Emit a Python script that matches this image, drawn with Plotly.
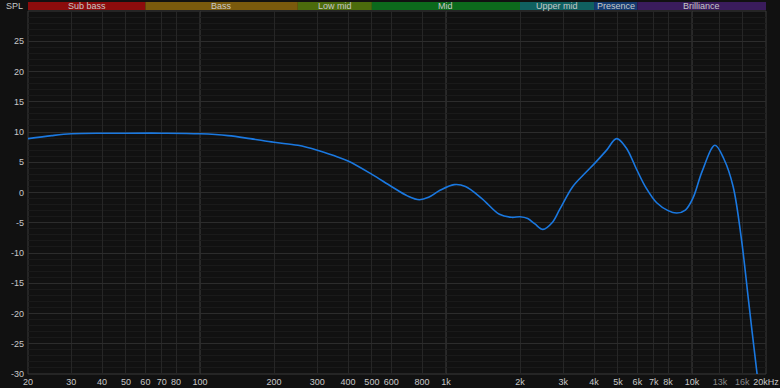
import math
import plotly.graph_objects as go

# ---- data ----
freq_hz = [20, 25, 30, 40, 50, 70, 100, 130, 160, 200, 250, 300, 350, 400, 500, 600, 700, 780,
           850, 950, 1080, 1200, 1400, 1650, 1850, 2000, 2150, 2300, 2480, 2700, 2900, 3280,
           3700, 4040, 4500, 4940, 5400, 5960, 6500, 7190, 8000, 8670, 9400, 10100, 11000,
           12400, 13500, 14700, 15900, 17000, 18400, 19000]
spl_db = [8.9, 9.4, 9.7, 9.8, 9.8, 9.8, 9.7, 9.4, 8.9, 8.3, 7.8, 7.0, 6.1, 5.2, 3.0, 1.0, -0.6, -1.2,
          -0.8, 0.4, 1.3, 1.0, -1.0, -3.6, -4.1, -4.0, -4.3, -5.2, -6.1, -5.0, -2.8, 1.0,
          3.3, 4.9, 7.0, 8.9, 7.4, 3.8, 0.8, -1.7, -3.0, -3.4, -2.9, -0.9, 3.5,
          7.8, 5.5, 1.0, -7.8, -18.0, -30.0, -34.0]

band_names = ["Sub bass", "Bass", "Low mid", "Mid", "Upper mid", "Presence", "Brilliance"]
band_lo = [20, 60, 250, 500, 2000, 4000, 6000]
band_hi = [60, 250, 500, 2000, 4000, 6000, 20000]
band_colors = ["#8c0c0c", "#7a5a0c", "#4c6c0c", "#0c6a1c", "#106060", "#143a70", "#3a1c5c"]

x_tick_vals = [20, 30, 40, 50, 60, 70, 80, 100, 200, 300, 400, 500, 600, 800, 1000, 2000, 3000,
               4000, 5000, 6000, 7000, 8000, 10000, 13000, 16000, 20000]
x_tick_text = ["20", "30", "40", "50", "60", "70", "80", "100", "200", "300", "400", "500", "600",
               "800", "1k", "2k", "3k", "4k", "5k", "6k", "7k", "8k", "10k",
               "<span style='color:#888'>13k</span>", "<span style='color:#888'>16k</span>", "20kHz"]
y_tick_vals = [25, 20, 15, 10, 5, 0, -5, -10, -15, -20, -25, -30]
y_tick_text = ["25", "20", "15", "10", "5", "0", "-5", "-10", "-15", "-20", "-25", "-30"]
decade_lines = [100, 1000, 10000]

W, H = 780, 388
ML, MR, MT, MB = 28, 14, 11, 14
plot_h = H - MT - MB
FONT = "Liberation Sans, Arial"

fig = go.Figure()
fig.add_trace(go.Scatter(x=freq_hz, y=spl_db, mode="lines",
                         line=dict(color="#1a78e0", width=1.6, shape="spline", smoothing=1.0),
                         hoverinfo="skip", showlegend=False))

shapes = []
annotations = []
for name, lo, hi, col in zip(band_names, band_lo, band_hi, band_colors):
    shapes.append(dict(type="rect", xref="x", yref="paper",
                       x0=lo, x1=hi,
                       y0=1 + 1 / plot_h, y1=1 + 9 / plot_h,
                       fillcolor=col, line=dict(width=0), layer="above"))
    annotations.append(dict(x=(math.log10(lo) + math.log10(hi)) / 2, y=1 + 5 / plot_h,
                            xref="x", yref="paper", text=name, showarrow=False,
                            font=dict(size=9, color="#c8c8c8", family=FONT),
                            xanchor="center", yanchor="middle"))
for d in decade_lines:
    shapes.append(dict(type="line", xref="x", yref="paper", x0=d, x1=d,
                       y0=0, y1=1, line=dict(color="#4a4a4a", width=1), layer="between"))
shapes.append(dict(type="rect", xref="paper", yref="paper", x0=0, x1=1, y0=0, y1=1,
                   line=dict(color="#3a3a3a", width=1), layer="between"))

annotations.append(dict(x=0, y=1 + MT / plot_h, xref="paper", yref="paper", text="SPL",
                        showarrow=False, xanchor="right", yanchor="top", xshift=-3, yshift=1,
                        font=dict(size=9, color="#c8c8c8", family=FONT)))

eps = 1e-6
fig.update_layout(
    width=W, height=H,
    margin=dict(l=ML, r=MR, t=MT, b=MB, pad=0, autoexpand=False),
    paper_bgcolor="#111111", plot_bgcolor="#111111",
    shapes=shapes, annotations=annotations,
    font=dict(family=FONT, size=9, color="#c8c8c8"),
    xaxis=dict(type="log", range=[math.log10(20) - eps, math.log10(20000) + eps], automargin=False,
               tickvals=x_tick_vals, ticktext=x_tick_text, ticks="", showline=False,
               ticklabeloverflow="allow", tickangle=0,
               gridcolor="#262626", gridwidth=1, zeroline=False, ticklabelstandoff=1,
               tickfont=dict(size=9, color="#c8c8c8", family=FONT)),
    yaxis=dict(range=[-30, 30], tickvals=y_tick_vals, ticktext=y_tick_text, ticks="",
               automargin=False, ticklabeloverflow="allow",
               gridcolor="#2c2c2c", gridwidth=1, zeroline=False, showline=False,
               tickfont=dict(size=9, color="#c8c8c8", family=FONT), ticklabelstandoff=3,
               minor=dict(dtick=1, showgrid=True, gridcolor="#1a1a1a", gridwidth=1)),
)

fig.write_html("out.html")
